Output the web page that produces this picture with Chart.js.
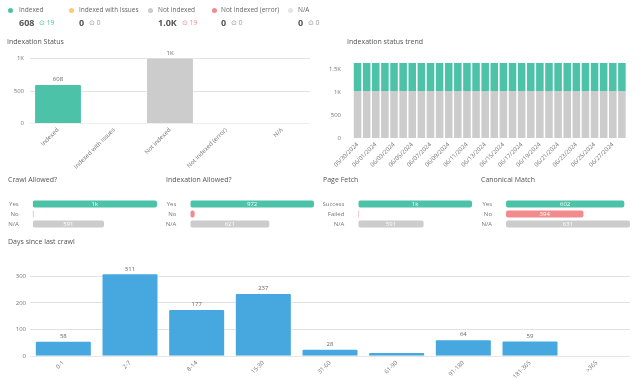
<!DOCTYPE html>
<html>
<head>
<meta charset="utf-8">
<script src="https://cdn.jsdelivr.net/npm/chart.js@4/dist/chart.umd.min.js"></script>
<style>
  html, body { margin: 0; background: #fff; font-family: 'Open Sans', sans-serif; color: #555; overflow: hidden; width: 640px; height: 378px; }
  .title, .legend, .num, .chg { will-change: transform; }
  .title { position: absolute; font-size: 7px; color: #555; white-space: nowrap; }
  .legend { position: absolute; top: 6px; font-size: 6.5px; color: #666; white-space: nowrap; line-height: 8px; }
  .dot { position: absolute; top: 7.5px; width: 5px; height: 5px; border-radius: 50%; }
  .num { position: absolute; top: 17px; font-size: 9px; font-weight: 700; color: #555; line-height: 12px; }
  .chg { position: absolute; top: 18px; font-size: 6.5px; line-height: 10px; color: #999; }
  canvas { position: absolute; }
</style>
</head>
<body>
<div id="summary"></div>
<div class="title" style="left:7px;top:37px">Indexation Status</div>
<div class="title" style="left:347px;top:37px">Indexation status trend</div>
<div class="title" style="left:8px;top:175px">Crawl Allowed?</div>
<div class="title" style="left:166px;top:175px">Indexation Allowed?</div>
<div class="title" style="left:323px;top:175px">Page Fetch</div>
<div class="title" style="left:481px;top:175px">Canonical Match</div>
<div class="title" style="left:8px;top:237px">Days since last crawl</div>

<canvas id="statusChart" width="310" height="130" style="left:0;top:48px"></canvas>
<canvas id="trendChart" width="310" height="123" style="left:320px;top:55px"></canvas>
<canvas id="crawlChart" width="157" height="40" style="left:0;top:190px"></canvas>
<canvas id="indexAllowedChart" width="154" height="40" style="left:160px;top:190px"></canvas>
<canvas id="fetchChart" width="154" height="40" style="left:318px;top:190px"></canvas>
<canvas id="canonicalChart" width="154" height="40" style="left:476px;top:190px"></canvas>
<canvas id="daysChart" width="630" height="130" style="left:0;top:262px"></canvas>

<script>
const GREEN = '#4cc3a8', YELLOW = '#f8cd6b', GREY = '#cccccc', RED = '#f28b8e', LIGHT = '#e4e4e4', BLUE = '#47a7df';

// summary / legend
const statusLabels = ['Indexed', 'Indexed with Issues', 'Not indexed', 'Not indexed (error)', 'N/A'];
const statusValues = [608, 0, 1019, 0, 0];
const statusChanges = [19, 0, 19, 0, 0];
const statusColors = [GREEN, YELLOW, GREY, RED, LIGHT];
const summaryText = ['608', '0', '1.0K', '0', '0'];
const statusTicks = [0, 500, 1000];

// trend
const trendDates = ['05/30/2024', '05/31/2024', '06/01/2024', '06/02/2024', '06/03/2024', '06/04/2024',
  '06/05/2024', '06/06/2024', '06/07/2024', '06/08/2024', '06/09/2024', '06/10/2024', '06/11/2024',
  '06/12/2024', '06/13/2024', '06/14/2024', '06/15/2024', '06/16/2024', '06/17/2024', '06/18/2024',
  '06/19/2024', '06/20/2024', '06/21/2024', '06/22/2024', '06/23/2024', '06/24/2024', '06/25/2024',
  '06/26/2024', '06/27/2024', '06/28/2024'];
const trendNotIndexed = [1019, 1019, 1019, 1019, 1019, 1019, 1019, 1019, 1019, 1019, 1019, 1019, 1019, 1019, 1019,
  1019, 1019, 1019, 1019, 1019, 1019, 1019, 1019, 1019, 1019, 1019, 1019, 1019, 1019, 1019];
const trendIndexed = [608, 608, 608, 608, 608, 608, 608, 608, 608, 608, 608, 608, 608, 608, 608,
  608, 608, 608, 608, 608, 608, 608, 608, 608, 608, 608, 608, 608, 608, 608];
const trendTicks = [0, 500, 1000, 1500];

// small horizontal charts
const yesNoLabels = ['Yes', 'No', 'N/A'];
const fetchLabels = ['Success', 'Failed', 'N/A'];
const crawlValues = [1030, 6, 591];
const indexAllowedValues = [972, 34, 621];
const fetchValues = [1030, 6, 591];
const canonicalValues = [602, 394, 631];

// days since last crawl
const dayBuckets = ['0-1', '2-7', '8-14', '15-30', '31-60', '61-90', '91-180', '181-365', '>365'];
const dayCounts = [58, 311, 177, 237, 28, 16, 64, 59, 0];
const dayTicks = [0, 100, 200, 300];

// build the summary row
const summary = document.getElementById('summary');
const xDot = [10, 71, 150, 214, 290];
const xNum = [19, 79, 158, 221, 298];
statusLabels.forEach((lab, i) => {
  summary.insertAdjacentHTML('beforeend',
    `<div class="dot" style="left:${xDot[i] - 2.5}px;background:${statusColors[i]}"></div>` +
    `<div class="legend" style="left:${xNum[i]}px">${lab}</div>` +
    `<div class="num" style="left:${xNum[i]}px" id="num${i}">${summaryText[i]}</div>`);
  const w = document.getElementById('num' + i).getBoundingClientRect().width;
  const col = statusChanges[i] > 0 ? (i === 0 ? GREEN : RED) : '#999';
  summary.insertAdjacentHTML('beforeend',
    `<div class="chg" style="left:${xNum[i] + w + 5}px;color:${col}">⊙ ${statusChanges[i]}</div>`);
});

Chart.defaults.font.family = "'Open Sans', sans-serif";
Chart.defaults.font.size = 6;
Chart.defaults.color = '#777';
Chart.defaults.animation = false;
Chart.defaults.responsive = false;
Chart.defaults.plugins.legend.display = false;
Chart.defaults.plugins.tooltip.enabled = false;

const kFmt = v => v >= 1000 ? (Math.round(v / 100) / 10) + 'K' : String(v);
const fixedTicks = list => s => { s.ticks = list.map(v => ({ value: v })); };
// fixed y axis width, and no extra top/bottom padding from the tick labels
const fixedWidth = w => s => { s.width = w; s.paddingTop = 0; s.paddingBottom = 0; };

// draws value labels above vertical bars or inside horizontal bars
const valueLabels = {
  id: 'valueLabels',
  afterDatasetsDraw(chart, args, opts) {
    if (!opts.show) return;
    const ctx = chart.ctx;
    ctx.save();
    ctx.font = "6px 'Open Sans', sans-serif";
    chart.getDatasetMeta(0).data.forEach((el, i) => {
      const v = chart.data.datasets[0].data[i];
      if (v < opts.min) return;
      const txt = opts.format ? opts.format(v) : String(v);
      ctx.textAlign = 'center';
      if (chart.options.indexAxis === 'y') {
        ctx.fillStyle = '#fff';
        ctx.textBaseline = 'middle';
        ctx.fillText(txt, (el.x + el.base) / 2, el.y + 0.5);
      } else {
        ctx.fillStyle = '#666';
        ctx.textBaseline = 'bottom';
        ctx.fillText(txt, el.x, el.y - 1.5);
      }
    });
    ctx.restore();
  }
};

const dashedGrid = {
  color: c => c.tick && c.tick.value === 0 ? 'rgba(0,0,0,0)' : '#e2e2e2',
  borderDash: [4, 4],
  drawTicks: false
};

// Indexation Status
new Chart(document.getElementById('statusChart'), {
  type: 'bar',
  data: {
    labels: statusLabels,
    datasets: [{
      data: statusValues,
      backgroundColor: statusColors.map((c, i) => i === 4 ? '#ddd' : c),
      borderColor: 'rgba(255,255,255,0.6)',
      borderWidth: 1,
      borderRadius: 2,
      categoryPercentage: 0.9,
      barPercentage: 0.95
    }]
  },
  options: {
    layout: { padding: { top: 9.5, right: 0, left: 0, bottom: 0 } },
    scales: {
      x: {
        grid: { display: false, drawTicks: false },
        border: { color: '#eee' },
        ticks: { maxRotation: 45, minRotation: 45, padding: 3 },
        afterFit: s => { s.height = 54.5; }
      },
      y: {
        min: 0, max: Math.max(...statusValues),
        grid: dashedGrid,
        border: { display: false },
        ticks: { padding: 6, callback: kFmt },
        afterBuildTicks: fixedTicks(statusTicks),
        afterFit: fixedWidth(30)
      }
    },
    plugins: { valueLabels: { show: true, min: 1, format: kFmt } }
  },
  plugins: [valueLabels]
});

// Indexation status trend
new Chart(document.getElementById('trendChart'), {
  type: 'bar',
  data: {
    labels: trendDates,
    datasets: [
      { label: 'Not indexed', data: trendNotIndexed, backgroundColor: GREY },
      { label: 'Indexed', data: trendIndexed, backgroundColor: GREEN }
    ]
  },
  options: {
    datasets: { bar: { categoryPercentage: 0.9, barPercentage: 0.92, borderWidth: 0 } },
    layout: { padding: { top: 8, right: 0, left: 0, bottom: 0 } },
    scales: {
      x: {
        stacked: true,
        grid: { display: false, drawTicks: false },
        border: { display: false },
        ticks: {
          autoSkip: false, maxRotation: 45, minRotation: 45, padding: 3,
          callback: function (v, i) { return i % 2 === 0 ? this.getLabelForValue(v) : ''; }
        },
        afterFit: s => { s.height = 40; }
      },
      y: {
        stacked: true,
        min: 0, max: trendNotIndexed[0] + trendIndexed[0],
        grid: { display: false },
        border: { display: false },
        ticks: { padding: 4, callback: kFmt },
        afterBuildTicks: fixedTicks(trendTicks),
        afterFit: fixedWidth(33)
      }
    }
  }
});

// small horizontal bar charts
function smallBar(id, labels, values, axisWidth) {
  new Chart(document.getElementById(id), {
    type: 'bar',
    data: {
      labels: labels,
      datasets: [{
        data: values,
        backgroundColor: [GREEN, RED, GREY],
        borderRadius: 2,
        borderSkipped: false,
        categoryPercentage: 0.8,
        barPercentage: 0.875
      }]
    },
    options: {
      indexAxis: 'y',
      layout: { padding: { top: 9, right: 0, left: 0, bottom: 1 } },
      scales: {
        x: { display: false, min: 0, max: Math.max(...values) },
        y: {
          grid: { display: false },
          border: { display: false },
          ticks: { padding: 6, autoSkip: false },
          afterFit: fixedWidth(axisWidth)
        }
      },
      plugins: {
        valueLabels: { show: true, min: 100, format: v => v >= 1000 ? Math.round(v / 1000) + 'k' : String(v) }
      }
    },
    plugins: [valueLabels]
  });
}
smallBar('crawlChart', yesNoLabels, crawlValues, 32.7);
smallBar('indexAllowedChart', yesNoLabels, indexAllowedValues, 30.3);
smallBar('fetchChart', fetchLabels, fetchValues, 40.3);
smallBar('canonicalChart', yesNoLabels, canonicalValues, 30);

// Days since last crawl
new Chart(document.getElementById('daysChart'), {
  type: 'bar',
  data: {
    labels: dayBuckets,
    datasets: [{
      data: dayCounts,
      backgroundColor: BLUE,
      borderColor: 'rgba(255,255,255,0.5)',
      borderWidth: 1,
      borderRadius: 2,
      categoryPercentage: 0.9,
      barPercentage: 0.95
    }]
  },
  options: {
    layout: { padding: { top: 11.3, right: 0, left: 0, bottom: 0 } },
    scales: {
      x: {
        grid: { display: false, drawTicks: false },
        border: { color: '#e6e6e6' },
        ticks: { maxRotation: 45, minRotation: 45, padding: 3 },
        afterFit: s => { s.height = 35.7; }
      },
      y: {
        min: 0, max: Math.max(...dayCounts),
        grid: dashedGrid,
        border: { display: false },
        ticks: { padding: 4 },
        afterBuildTicks: fixedTicks(dayTicks),
        afterFit: fixedWidth(30)
      }
    },
    plugins: { valueLabels: { show: true, min: 20 } }
  },
  plugins: [valueLabels]
});
</script>
</body>
</html>
